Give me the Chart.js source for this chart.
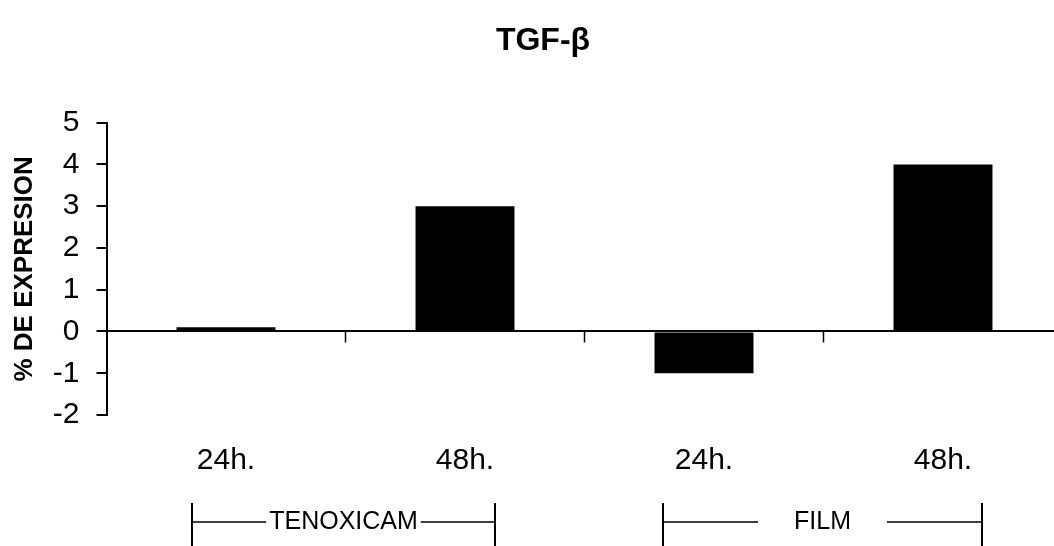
<!DOCTYPE html>
<html>
<head>
<meta charset="utf-8">
<script src="https://cdn.jsdelivr.net/npm/chart.js@4.4.1/dist/chart.umd.min.js"></script>
<style>
html, body { margin: 0; padding: 0; overflow: hidden; background: #fff; width: 1054px; height: 546px; }
#wrap { position: absolute; left: 0; top: 0; width: 1070px; height: 546px; }
</style>
</head>
<body>
<div id="wrap"><canvas id="c" width="1070" height="546"></canvas></div>
<script>
// ---- data ----
const chartTitle = 'TGF-β';
const yAxisTitle = '% DE EXPRESION';
const categories = ['24h.', '48h.', '24h.', '48h.'];
const values = [0.1, 3, -1, 4];
const groupNames = ['TENOXICAM', 'FILM'];
const groupFirst = [0, 2];
const groupLast = [1, 3];
const yMin = -2;
const yMax = 5;
const yStep = 1;

// ---- style ----
const FONT = "'Liberation Sans', Arial, Helvetica, sans-serif";
const titleStyle = { x: 543, y: 41, size: 32 };
const bracketStyle = {
  leftOff: [-153.5, -160.5],
  rightOff: [149.5, 158.5],
  gap: [3, 36],
  lineY: 522,
  vTop: 503,
  vBottom: 546,
  size: 25
};

const decorPlugin = {
  id: 'decor',
  afterDraw(chart) {
    const c = chart.ctx;
    const xs = chart.scales.x;
    const ys = chart.scales.y;
    c.save();
    c.fillStyle = '#000';
    c.strokeStyle = '#000';
    // title
    c.font = `bold ${titleStyle.size}px ${FONT}`;
    c.textAlign = 'center';
    c.textBaseline = 'middle';
    c.fillText(chartTitle, titleStyle.x, titleStyle.y);
    // tick marks on zero line at category boundaries
    const y0 = ys.getPixelForValue(0);
    c.lineWidth = 1.5;
    for (let i = 1; i < categories.length; i++) {
      const bx = (xs.getPixelForValue(i - 1) + xs.getPixelForValue(i)) / 2;
      c.beginPath();
      c.moveTo(bx, y0);
      c.lineTo(bx, y0 + 11);
      c.stroke();
    }
    // group brackets
    c.font = `${bracketStyle.size}px ${FONT}`;
    groupNames.forEach((name, i) => {
      const center = (xs.getPixelForValue(groupFirst[i]) + xs.getPixelForValue(groupLast[i])) / 2;
      const L = center + bracketStyle.leftOff[i];
      const R = center + bracketStyle.rightOff[i];
      const tc = (L + R) / 2;
      const tw = c.measureText(name).width;
      const gap = bracketStyle.gap[i];
      c.lineWidth = 2;
      c.beginPath();
      c.moveTo(L, bracketStyle.vTop); c.lineTo(L, bracketStyle.vBottom);
      c.moveTo(R, bracketStyle.vTop); c.lineTo(R, bracketStyle.vBottom);
      c.stroke();
      c.lineWidth = 1.5;
      c.beginPath();
      c.moveTo(L, bracketStyle.lineY); c.lineTo(tc - tw / 2 - gap, bracketStyle.lineY);
      c.moveTo(tc + tw / 2 + gap, bracketStyle.lineY); c.lineTo(R, bracketStyle.lineY);
      c.stroke();
      c.fillText(name, tc, bracketStyle.lineY);
    });
    c.restore();
  }
};

new Chart(document.getElementById('c'), {
  type: 'bar',
  data: {
    labels: categories,
    datasets: [{
      data: values,
      backgroundColor: '#000',
      borderWidth: 0,
      barPercentage: 0.414,
      categoryPercentage: 1
    }]
  },
  options: {
    responsive: false,
    animation: false,
    layout: { padding: { top: 122.7, left: 0, right: 7.5, bottom: 0 } },
    plugins: {
      legend: { display: false },
      tooltip: { enabled: false },
      title: { display: false }
    },
    scales: {
      x: {
        grid: { display: false, drawTicks: false },
        border: { display: false },
        ticks: { color: '#000', font: { family: FONT, size: 30 }, padding: 28, maxRotation: 0, autoSkip: false },
        afterFit: s => { s.height = 131; }
      },
      y: {
        min: yMin,
        max: yMax,
        ticks: { stepSize: yStep, color: '#000', font: { family: FONT, size: 30 }, padding: 17 },
        border: { display: true, color: '#000', width: 2 },
        grid: {
          color: ctx => (ctx.tick && ctx.tick.value === 0) ? '#000' : 'rgba(0,0,0,0)',
          tickColor: '#000',
          lineWidth: 2,
          tickWidth: 2,
          tickLength: 10
        },
        title: {
          display: true,
          text: yAxisTitle,
          color: '#000',
          font: { family: FONT, size: 26, weight: 'bold' },
          padding: { top: 9, bottom: 0 }
        },
        afterFit: s => { s.width = 106.5; }
      }
    }
  },
  plugins: [decorPlugin]
});
</script>
</body>
</html>
